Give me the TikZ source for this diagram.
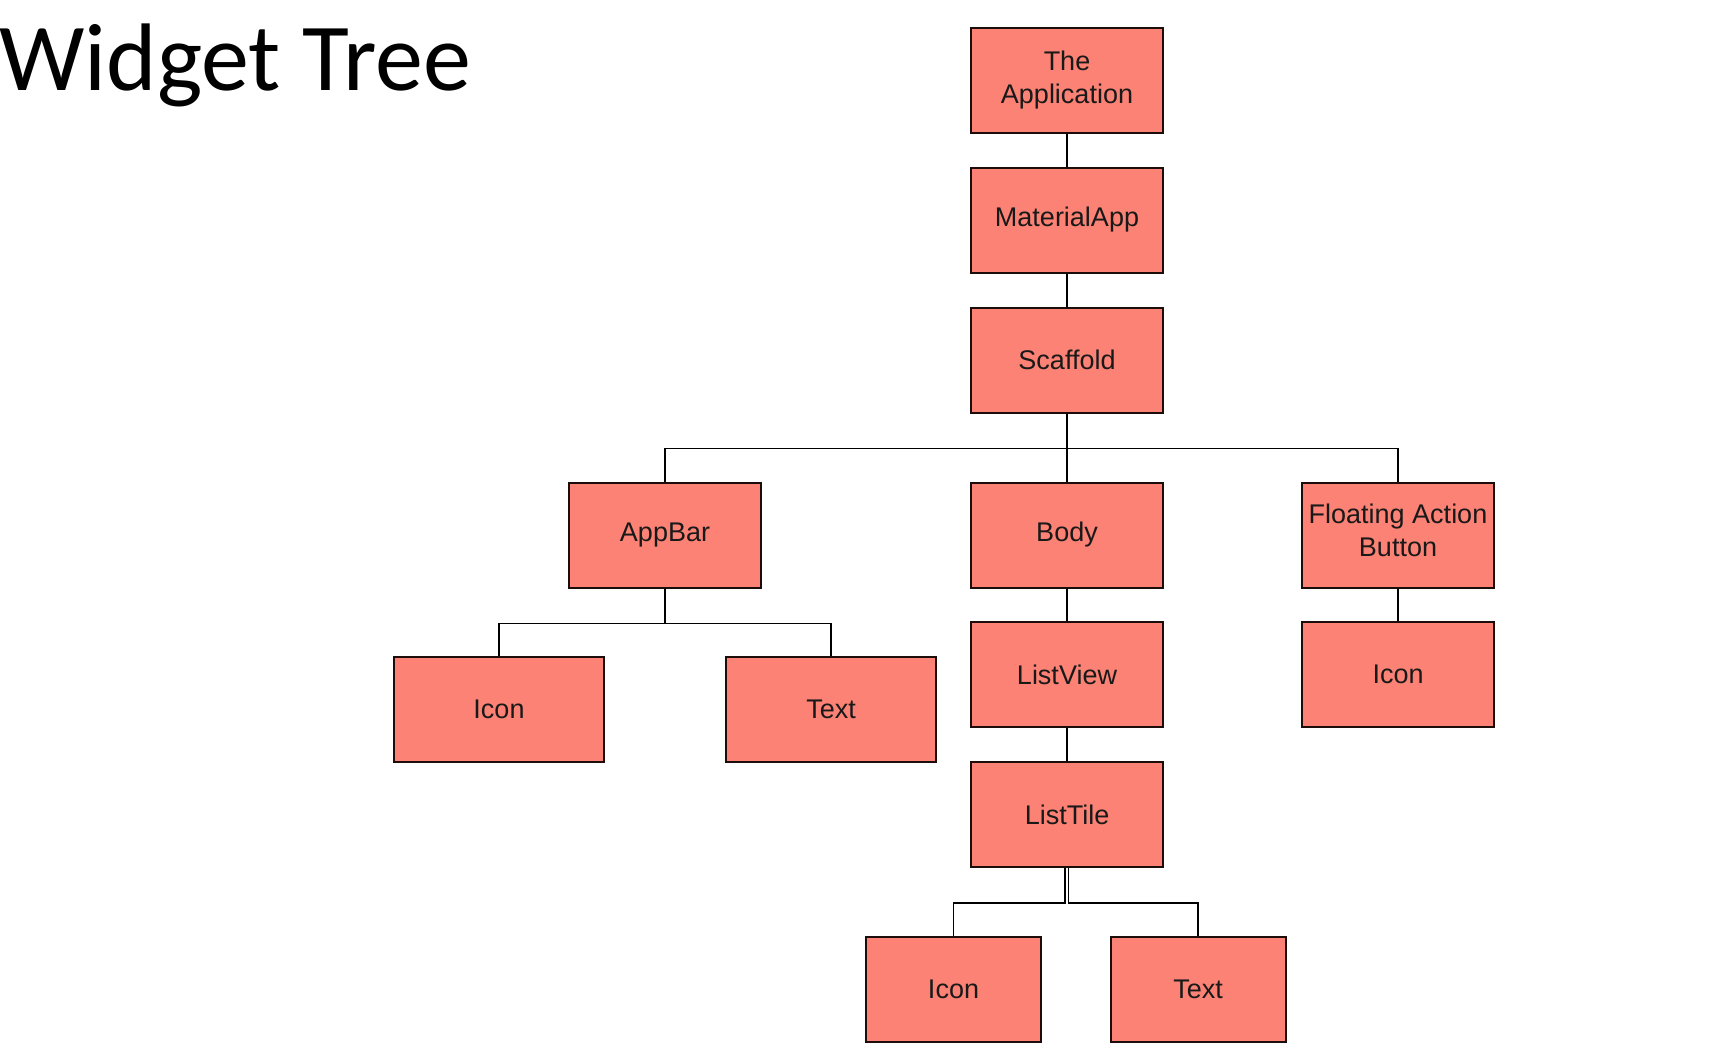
\documentclass[tikz,border=0pt]{standalone}
\usepackage{fontspec}
\setmainfont{Liberation Sans}
\newfontfamily\titlefont{Carlito}
\definecolor{boxfill}{RGB}{251,130,116}
\definecolor{boxline}{RGB}{28,12,10}
\begin{document}
\begin{tikzpicture}[x=1pt,y=-1pt,
  widget/.style={draw=boxline, line width=2pt, fill=boxfill,
    minimum width=192pt, minimum height=105pt, align=center,
    inner sep=2pt, font=\fontsize{27}{33}\selectfont, text=black!90},
  wide/.style={minimum width=210pt},
  narrow/.style={minimum width=175pt},
  link/.style={draw=black, line width=1.8pt}]
\useasboundingbox (0,0) rectangle (1712,1063);

% heading
\node[anchor=base west, inner sep=0pt, font=\titlefont\fontsize{96}{110}\selectfont]
  (title) at (-1,90) {Widget Tree};

% tree of widgets
\node[widget] (app)    at (1067,80)    {The\\Application};
\node[widget] (mat)    at (1067,220)   {MaterialApp};
\node[widget] (scaf)   at (1067,360)   {Scaffold};
\node[widget] (appbar) at (665,535)    {AppBar};
\node[widget] (body)   at (1067,535)   {Body};
\node[widget, text depth=10pt] (fab) at (1398,535) {Floating Action\\Button};
\node[widget, wide] (abicon) at (499,709.5)  {Icon};
\node[widget, wide] (abtext) at (831,709.5)  {Text};
\node[widget] (list)   at (1067,674.5) {ListView};
\node[widget] (fabicon) at (1398,674.5) {Icon};
\node[widget] (tile)   at (1067,814.5) {ListTile};
\node[widget, narrow] (ticon) at (953.5,989.5) {Icon};
\node[widget, narrow] (ttext) at (1198,989.5)  {Text};

% connectors
\draw[link] (app) -- (mat);
\draw[link] (mat) -- (scaf);
\draw[link] (scaf.south) -- ++(0,35) -| (appbar.north);
\draw[link] (scaf.south) -- (body.north);
\draw[link] (scaf.south) -- ++(0,35) -| (fab.north);
\draw[link] (appbar.south) -- ++(0,35) -| (abicon.north);
\draw[link] (appbar.south) -- ++(0,35) -| (abtext.north);
\draw[link] (body) -- (list);
\draw[link] (fab) -- (fabicon);
\draw[link] (list) -- (tile);
\draw[link] ([xshift=-2pt]tile.south) -- ++(0,35) -| (ticon.north);
\draw[link] ([xshift=1.5pt]tile.south) -- ++(0,35) -| (ttext.north);
\end{tikzpicture}
\end{document}
